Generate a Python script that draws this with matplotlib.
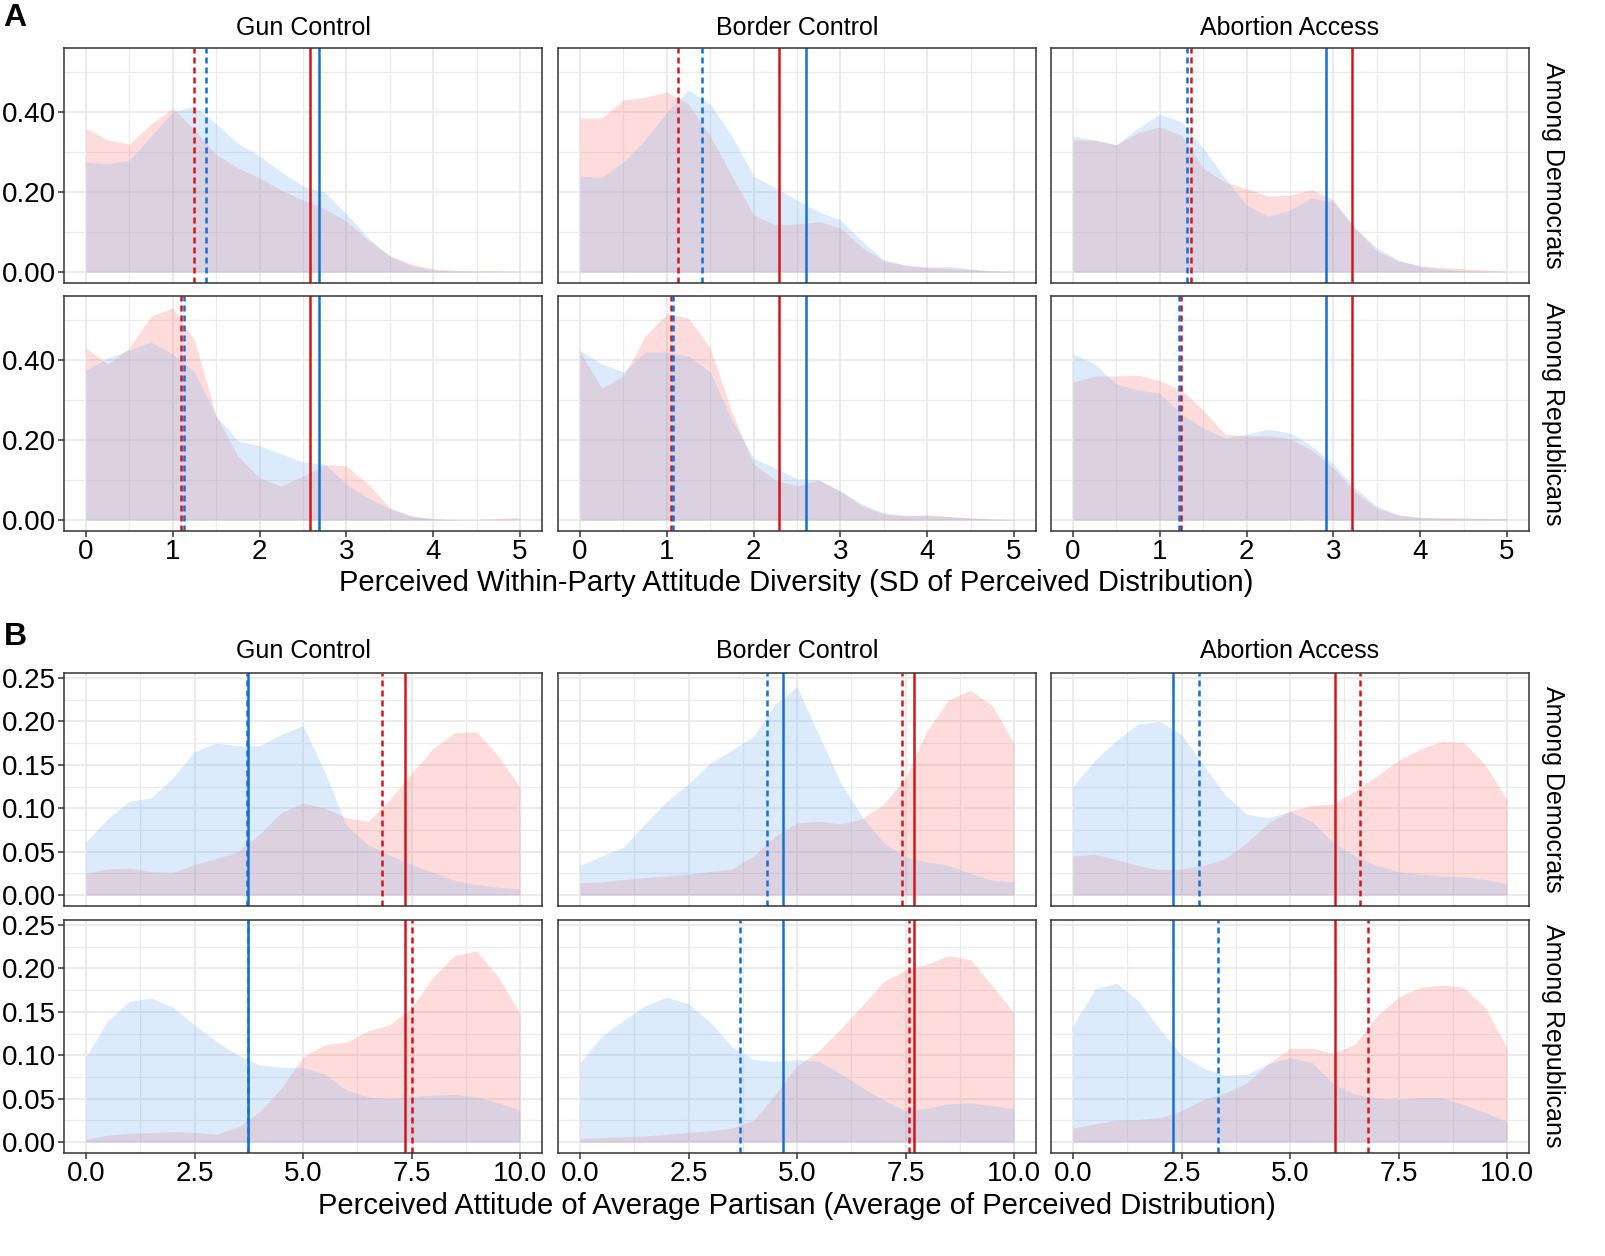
import matplotlib
matplotlib.use('Agg')
from matplotlib import pyplot as plt
from matplotlib.ticker import FixedLocator, FormatStrFormatter

plt.rcParams['font.family'] = ['Liberation Sans', 'DejaVu Sans']

W, H = 1605, 1256

topics = ['Gun Control', 'Border Control', 'Abortion Access']
rows = ['Among Democrats', 'Among Republicans']

# --- panel A: perceived SD, densities read at steps of 0.25 ---
sd_x = [0.0, 0.25, 0.5, 0.75, 1.0, 1.25, 1.5, 1.75, 2.0, 2.25, 2.5,
        2.75, 3.0, 3.25, 3.5, 3.75, 4.0, 4.25, 4.5, 4.75, 5.0]

a_gun_dem_red = [0.36, 0.33, 0.32, 0.37, 0.41, 0.355, 0.294, 0.26, 0.235, 0.205, 0.18,
                 0.158, 0.127, 0.08, 0.04, 0.02, 0.008, 0.004, 0.003, 0.003, 0.002]
a_gun_dem_blue = [0.275, 0.27, 0.28, 0.34, 0.40, 0.415, 0.37, 0.322, 0.29, 0.25, 0.215,
                  0.2, 0.145, 0.086, 0.04, 0.015, 0.005, 0.002, 0.001, 0.0, 0.0]
a_gun_rep_red = [0.43, 0.39, 0.43, 0.51, 0.53, 0.45, 0.26, 0.16, 0.105, 0.085, 0.11,
                 0.138, 0.135, 0.09, 0.03, 0.01, 0.003, 0.001, 0.001, 0.004, 0.006]
a_gun_rep_blue = [0.375, 0.405, 0.425, 0.445, 0.415, 0.37, 0.26, 0.198, 0.186, 0.165, 0.145,
                  0.14, 0.09, 0.055, 0.028, 0.01, 0.003, 0.001, 0.0, 0.0, 0.0]

a_border_dem_red = [0.385, 0.385, 0.43, 0.437, 0.45, 0.42, 0.34, 0.24, 0.143, 0.118, 0.12,
                    0.126, 0.11, 0.061, 0.028, 0.016, 0.012, 0.009, 0.006, 0.003, 0.002]
a_border_dem_blue = [0.24, 0.237, 0.275, 0.33, 0.40, 0.455, 0.42, 0.34, 0.24, 0.21, 0.18,
                     0.15, 0.13, 0.077, 0.03, 0.018, 0.012, 0.014, 0.008, 0.002, 0.001]
a_border_rep_red = [0.42, 0.33, 0.36, 0.46, 0.515, 0.505, 0.43, 0.27, 0.14, 0.1, 0.085,
                    0.1, 0.072, 0.035, 0.015, 0.01, 0.013, 0.009, 0.005, 0.002, 0.001]
a_border_rep_blue = [0.425, 0.39, 0.37, 0.42, 0.42, 0.41, 0.37, 0.25, 0.154, 0.13, 0.103,
                     0.101, 0.072, 0.04, 0.018, 0.012, 0.011, 0.008, 0.005, 0.003, 0.001]

a_abort_dem_red = [0.33, 0.33, 0.318, 0.348, 0.363, 0.342, 0.26, 0.225, 0.208, 0.19, 0.192,
                   0.206, 0.18, 0.11, 0.053, 0.027, 0.016, 0.011, 0.008, 0.005, 0.002]
a_abort_dem_blue = [0.34, 0.33, 0.318, 0.36, 0.395, 0.375, 0.31, 0.235, 0.167, 0.139, 0.155,
                    0.185, 0.175, 0.11, 0.061, 0.03, 0.014, 0.007, 0.003, 0.001, 0.0]
a_abort_rep_red = [0.345, 0.36, 0.36, 0.362, 0.348, 0.325, 0.275, 0.215, 0.21, 0.211, 0.203,
                   0.175, 0.13, 0.07, 0.03, 0.012, 0.007, 0.006, 0.005, 0.004, 0.003]
a_abort_rep_blue = [0.415, 0.39, 0.34, 0.325, 0.317, 0.265, 0.23, 0.205, 0.215, 0.227, 0.218,
                    0.185, 0.14, 0.08, 0.035, 0.013, 0.006, 0.004, 0.003, 0.003, 0.003]

# vertical lines: solid = actual, dashed = perceived (per row)
a_solid_red = [2.58, 2.29, 3.22]
a_solid_blue = [2.68, 2.60, 2.91]
a_dash_red = [[1.245, 1.13, 1.36], [1.095, 1.05, 1.24]]
a_dash_blue = [[1.385, 1.40, 1.315], [1.13, 1.075, 1.225]]

# --- panel B: perceived average, densities read at steps of 0.5 ---
avg_x = [0.0, 0.5, 1.0, 1.5, 2.0, 2.5, 3.0, 3.5, 4.0, 4.5, 5.0,
         5.5, 6.0, 6.5, 7.0, 7.5, 8.0, 8.5, 9.0, 9.5, 10.0]

b_gun_dem_red = [0.025, 0.03, 0.031, 0.027, 0.026, 0.035, 0.042, 0.05, 0.07, 0.095, 0.106,
                 0.1, 0.089, 0.085, 0.11, 0.14, 0.169, 0.187, 0.188, 0.16, 0.124]
b_gun_dem_blue = [0.061, 0.088, 0.108, 0.112, 0.135, 0.165, 0.175, 0.172, 0.172, 0.185, 0.195,
                  0.142, 0.08, 0.058, 0.046, 0.035, 0.026, 0.017, 0.012, 0.009, 0.007]
b_gun_rep_red = [0.003, 0.008, 0.01, 0.011, 0.012, 0.011, 0.009, 0.017, 0.035, 0.062, 0.098,
                 0.112, 0.115, 0.128, 0.135, 0.155, 0.19, 0.215, 0.22, 0.19, 0.148]
b_gun_rep_blue = [0.098, 0.14, 0.162, 0.166, 0.155, 0.135, 0.116, 0.1, 0.089, 0.086, 0.086,
                  0.078, 0.06, 0.052, 0.05, 0.052, 0.054, 0.055, 0.052, 0.045, 0.037]

b_border_dem_red = [0.014, 0.015, 0.018, 0.02, 0.022, 0.024, 0.027, 0.03, 0.045, 0.068, 0.083,
                    0.085, 0.082, 0.088, 0.105, 0.135, 0.19, 0.225, 0.236, 0.218, 0.175]
b_border_dem_blue = [0.034, 0.045, 0.055, 0.082, 0.108, 0.128, 0.152, 0.167, 0.183, 0.22, 0.24,
                     0.185, 0.13, 0.09, 0.06, 0.044, 0.038, 0.034, 0.025, 0.017, 0.015]
b_border_rep_red = [0.004, 0.005, 0.006, 0.007, 0.009, 0.011, 0.013, 0.016, 0.025, 0.055, 0.088,
                    0.105, 0.13, 0.157, 0.185, 0.198, 0.205, 0.215, 0.21, 0.18, 0.149]
b_border_rep_blue = [0.091, 0.122, 0.14, 0.157, 0.167, 0.159, 0.138, 0.11, 0.095, 0.093, 0.095,
                     0.093, 0.079, 0.063, 0.048, 0.036, 0.039, 0.044, 0.045, 0.042, 0.038]

b_abort_dem_red = [0.045, 0.047, 0.041, 0.034, 0.029, 0.03, 0.034, 0.042, 0.06, 0.083, 0.097,
                   0.103, 0.105, 0.12, 0.137, 0.155, 0.168, 0.177, 0.176, 0.15, 0.11]
b_abort_dem_blue = [0.125, 0.155, 0.178, 0.197, 0.2, 0.185, 0.15, 0.116, 0.093, 0.089, 0.096,
                    0.085, 0.06, 0.045, 0.034, 0.027, 0.024, 0.022, 0.021, 0.018, 0.013]
b_abort_rep_red = [0.016, 0.021, 0.025, 0.026, 0.028, 0.036, 0.049, 0.056, 0.068, 0.09, 0.108,
                   0.108, 0.102, 0.113, 0.145, 0.167, 0.178, 0.181, 0.178, 0.155, 0.108]
b_abort_rep_blue = [0.134, 0.176, 0.183, 0.163, 0.13, 0.1, 0.085, 0.077, 0.078, 0.09, 0.097,
                    0.092, 0.067, 0.055, 0.05, 0.049, 0.051, 0.051, 0.043, 0.034, 0.023]

b_solid_red = [7.35, 7.70, 6.04]
b_solid_blue = [3.73, 4.67, 2.31]
b_dash_red = [[6.83, 7.43, 6.62], [7.51, 7.57, 6.79]]
b_dash_blue = [[3.72, 4.30, 2.91], [3.73, 3.69, 3.34]]

RED_LINE = '#D4161C'
BLUE_LINE = '#1570D6'
RED_FILL = '#FF7777'
BLUE_FILL = '#73B3F3'
GRID = '#EBEBEB'
DARK = '#333333'

panel_a = {
    'x': sd_x,
    'red': [[a_gun_dem_red, a_border_dem_red, a_abort_dem_red],
            [a_gun_rep_red, a_border_rep_red, a_abort_rep_red]],
    'blue': [[a_gun_dem_blue, a_border_dem_blue, a_abort_dem_blue],
             [a_gun_rep_blue, a_border_rep_blue, a_abort_rep_blue]],
    'solid_red': a_solid_red, 'solid_blue': a_solid_blue,
    'dash_red': a_dash_red, 'dash_blue': a_dash_blue,
    'xlim': (-0.25, 5.25), 'ylim': (-0.027, 0.56),
    'xmajor': [0, 1, 2, 3, 4, 5], 'xminor': [0.5, 1.5, 2.5, 3.5, 4.5],
    'ymajor': [0.0, 0.2, 0.4], 'yminor': [0.1, 0.3, 0.5],
    'xfmt': '%g', 'yfmt': '%.2f',
    'zero_px': [272, 520],
    'title': 'Perceived Within-Party Attitude Diversity (SD of Perceived Distribution)',
    'title_px': 583, 'strip_px': 28, 'letter': 'A', 'letter_px': 18,
}

panel_b = {
    'x': avg_x,
    'red': [[b_gun_dem_red, b_border_dem_red, b_abort_dem_red],
            [b_gun_rep_red, b_border_rep_red, b_abort_rep_red]],
    'blue': [[b_gun_dem_blue, b_border_dem_blue, b_abort_dem_blue],
             [b_gun_rep_blue, b_border_rep_blue, b_abort_rep_blue]],
    'solid_red': b_solid_red, 'solid_blue': b_solid_blue,
    'dash_red': b_dash_red, 'dash_blue': b_dash_blue,
    'xlim': (-0.5, 10.5), 'ylim': (-0.0122, 0.2562),
    'xmajor': [0, 2.5, 5, 7.5, 10], 'xminor': [1.25, 3.75, 6.25, 8.75],
    'ymajor': [0.0, 0.05, 0.10, 0.15, 0.20, 0.25],
    'yminor': [0.025, 0.075, 0.125, 0.175, 0.225],
    'xfmt': '%.1f', 'yfmt': '%.2f',
    'zero_px': [895, 1142],
    'title': 'Perceived Attitude of Average Partisan (Average of Perceived Distribution)',
    'title_px': 1206, 'strip_px': 651, 'letter': 'B', 'letter_px': 637,
}

col_left = [64.3, 558.3, 1051.3]
col_w = 477.4
y_scale = {'A': 400.0, 'B': 868.0}  # pixels per data unit

fig = plt.figure(figsize=(W / 100, H / 100), dpi=100)


def draw_panel(p):
    y0, y1 = p['ylim']
    scale = y_scale[p['letter']]
    hgt = (y1 - y0) * scale
    for r in range(2):
        top = p['zero_px'][r] - y1 * scale
        for c in range(3):
            ax = fig.add_axes([col_left[c] / W, 1 - (top + hgt) / H, col_w / W, hgt / H])
            ax.set_xlim(*p['xlim'])
            ax.set_ylim(y0, y1)
            ax.xaxis.set_major_locator(FixedLocator(p['xmajor']))
            ax.xaxis.set_minor_locator(FixedLocator(p['xminor']))
            ax.yaxis.set_major_locator(FixedLocator(p['ymajor']))
            ax.yaxis.set_minor_locator(FixedLocator(p['yminor']))
            ax.xaxis.set_major_formatter(FormatStrFormatter(p['xfmt']))
            ax.yaxis.set_major_formatter(FormatStrFormatter(p['yfmt']))
            ax.set_axisbelow(True)
            ax.grid(which='major', color=GRID, lw=1.5)
            ax.grid(which='minor', color=GRID, lw=0.9)

            ax.fill_between(p['x'], 0, p['red'][r][c], color=RED_FILL, alpha=0.25, lw=0)
            ax.fill_between(p['x'], 0, p['blue'][r][c], color=BLUE_FILL, alpha=0.25, lw=0)

            ax.axvline(p['dash_red'][r][c], color=RED_LINE, lw=1.8, ls=(0, (2.4, 1.6)))
            ax.axvline(p['dash_blue'][r][c], color=BLUE_LINE, lw=1.8, ls=(0, (2.4, 1.6)))
            ax.axvline(p['solid_red'][c], color=RED_LINE, lw=1.8)
            ax.axvline(p['solid_blue'][c], color=BLUE_LINE, lw=1.8)

            for s in ax.spines.values():
                s.set_color(DARK)
                s.set_linewidth(1.1)
            ax.tick_params(which='major', length=4, width=1.1, color=DARK,
                           labelsize=20, labelcolor='black', pad=2)
            ax.tick_params(which='minor', length=0)
            ax.tick_params(axis='x', labelbottom=(r == 1), bottom=(r == 1))
            ax.tick_params(axis='y', labelleft=(c == 0), left=(c == 0))

            if r == 0:
                fig.text((col_left[c] + col_w / 2) / W, 1 - p['strip_px'] / H, topics[c],
                         ha='center', va='center', fontsize=18)
            if c == 2:
                fig.text(1553 / W, 1 - (top + hgt / 2) / H, rows[r], rotation=-90,
                         ha='center', va='center', fontsize=18)

    fig.text((col_left[0] + col_left[2] + col_w) / 2 / W, 1 - p['title_px'] / H, p['title'],
             ha='center', va='center', fontsize=21)
    fig.text(15 / W, 1 - p['letter_px'] / H, p['letter'], ha='center', va='center',
             fontsize=23, fontweight='bold')


draw_panel(panel_a)
draw_panel(panel_b)

fig.savefig('out.png', dpi=100, facecolor='white')
